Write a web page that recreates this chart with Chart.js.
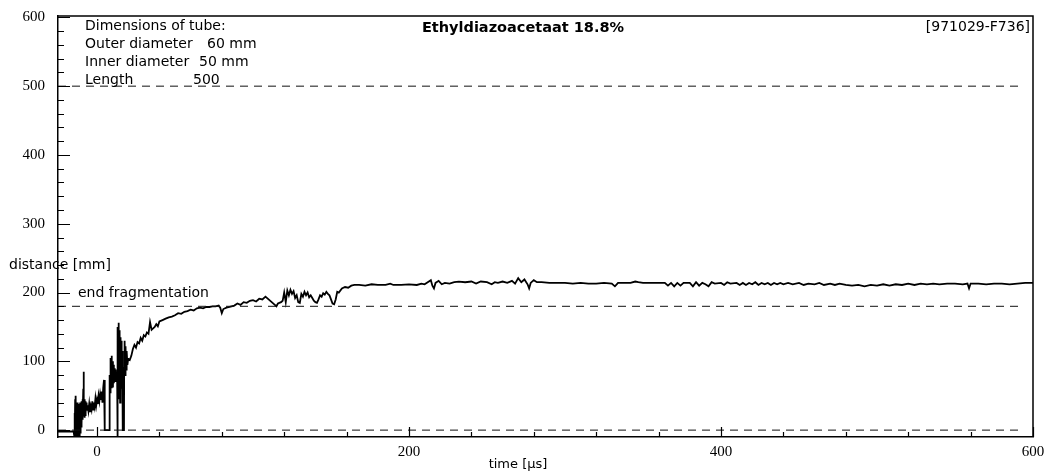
<!DOCTYPE html>
<html>
<head>
<meta charset="utf-8">
<script src="https://cdn.jsdelivr.net/npm/chart.js@4.4.1/dist/chart.umd.min.js"></script>
<style>
  body { margin: 0; background: #fff; }
  canvas { display: block; }
</style>
</head>
<body>
<canvas id="chart" width="1047" height="472"></canvas>
<script>
const baseAndFirstBurst = [
  [-25, -2], [-15, -2], [-14.6, -8], [-14.4, 25], [-14.2, -10], [-14, 45], [-13.8, -10], [-13.6, 50],
  [-13.4, -5], [-13.2, 30], [-13, -10], [-12.8, 40], [-12.6, -8], [-12.4, 35], [-12.2, -10], [-12, 30],
  [-11.8, -5], [-11.6, 38], [-11.4, -8], [-11.2, 28], [-11, 0], [-10.8, 40], [-10.6, -5], [-10.4, 35],
  [-10.2, 5], [-10, 42], [-9.8, 10], [-9.6, 38], [-9.4, 15], [-9.2, 45], [-9, 20], [-8.8, 60],
  [-8.6, 85], [-8.4, 20], [-8.2, 45], [-8, 18], [-7.8, 40], [-7.6, 22], [-7.4, 42], [-7.2, 25],
  [-7, 38], [-6.8, 28], [-6.6, 40], [-6.4, 30], [-6, 36], [-5.5, 28], [-5, 38], [-4.5, 26],
  [-4, 35], [-3.5, 30], [-3, 42], [-2.5, 30], [-2, 40], [-1.5, 34], [-1, 46], [-0.5, 36],
  [0, 44], [0.5, 38], [1, 50], [1.5, 42], [2, 52], [2.5, 44], [3, 56], [3.5, 40],
  [4, 62], [4.5, 73], [4.9, 70]
];
const secondBurst = [
  [5, 0], [8, 0], [8.1, 80], [8.4, 55], [8.7, 105], [9, 62], [9.3, 108], [9.6, 70],
  [9.9, 100], [10.2, 62], [10.5, 95], [10.8, 68], [11.1, 90], [11.4, 72], [11.7, 88], [12, 70],
  [12.3, 85], [12.6, 72], [12.9, 80], [13, -10], [13.2, 40], [13.4, 150], [13.6, 55], [13.8, 156],
  [14, 45], [14.2, 145], [14.4, 50], [14.6, 140], [14.8, 40], [15, 135], [15.2, 55], [15.4, 130],
  [15.6, 60], [15.8, 125], [16, 70], [16.2, 115], [16.4, 75], [16.5, 105], [16.6, 0], [17.3, 0],
  [17.4, 90], [17.7, 130], [18, 80], [18.3, 122], [18.6, 88], [19, 115], [19.5, 95]
];
const rise = [
  [20, 104], [21, 102], [22, 108], [23, 118], [24, 124], [25, 120], [26, 128], [27, 126],
  [28, 134], [29, 130], [30, 138], [31, 136], [32, 142], [33, 140], [34, 157], [35, 146],
  [36, 148], [37, 150], [38, 154], [39, 151], [40, 158], [42, 160], [44, 162], [46, 164],
  [48, 165], [50, 167], [52, 170], [54, 169], [56, 172], [58, 173], [60, 175], [62, 174],
  [64, 177], [66, 178], [68, 177], [70, 179], [72, 179], [74, 180], [76, 180], [78, 181],
  [79, 178], [80, 170], [81, 176], [83, 178], [85, 179], [88, 181], [90, 184], [92, 182],
  [94, 186], [96, 185], [98, 188], [100, 189], [102, 187], [104, 191], [106, 190], [108, 194],
  [110, 190], [112, 186], [114, 182], [115, 180], [116, 184], [118, 186], [119, 188], [120, 200],
  [121, 186], [122, 203], [123, 196], [124, 204], [125, 198], [126, 202], [127, 192], [128, 196],
  [129, 186], [130, 185], [131, 198], [132, 194], [133, 201], [134, 196], [135, 200], [136, 193],
  [137, 196], [138, 192], [139, 188], [140, 186], [141, 185], [142, 190], [143, 196], [144, 194],
  [145, 199], [146, 197], [147, 201], [148, 198], [149, 196], [150, 190], [151, 184], [152, 183],
  [153, 190], [154, 201], [155, 200]
];
const plateau = [
  [157, 206], [159, 208], [161, 207], [163, 210], [165, 211], [168, 211], [172, 210], [176, 212],
  [180, 211], [185, 211], [188, 213], [190, 211], [195, 211], [200, 212], [205, 211], [208, 213],
  [210, 212], [212, 215], [214, 218], [215, 210], [216, 206], [217, 214], [219, 217], [221, 212],
  [223, 214], [226, 213], [229, 215], [232, 216], [236, 215], [240, 216], [243, 213], [246, 216],
  [250, 215], [253, 212], [255, 215], [257, 214], [260, 216], [263, 214], [266, 217], [268, 213],
  [270, 221], [272, 215], [274, 219], [276, 212], [277, 206], [278, 214], [280, 218], [282, 215],
  [285, 215], [290, 214], [295, 214], [300, 214], [305, 213], [310, 214], [315, 213], [320, 213],
  [325, 214], [330, 213], [332, 209], [334, 214], [338, 214], [342, 214], [345, 216], [347, 215],
  [350, 214], [355, 214], [360, 214], [364, 214], [366, 210], [368, 214], [370, 209], [372, 214],
  [374, 210], [376, 214], [380, 214], [382, 209], [384, 215], [386, 210], [388, 214], [390, 212],
  [392, 209], [394, 215], [396, 213], [400, 214], [402, 211], [404, 215], [406, 213], [410, 214],
  [412, 211], [414, 214], [416, 211], [418, 214], [420, 212], [422, 215], [424, 211], [426, 214],
  [428, 212], [430, 214], [432, 211], [434, 214], [436, 212], [438, 214], [440, 212], [443, 214],
  [446, 212], [450, 214], [453, 211], [456, 213], [460, 212], [463, 214], [466, 211], [470, 213],
  [473, 211], [476, 213], [480, 211], [484, 210], [488, 211], [492, 209], [496, 211], [500, 210],
  [504, 212], [508, 210], [512, 212], [516, 211], [520, 213], [524, 211], [528, 213], [532, 212],
  [536, 213], [540, 212], [545, 213], [550, 213], [555, 212], [558, 213], [559, 206], [560, 213],
  [565, 213], [570, 212], [575, 213], [580, 213], [585, 212], [590, 213], [595, 214], [600, 214]
];

// dashed reference levels
const refLevels = [500, 180, 0];
const refFrom = -25;
const refTo = 592;

const xTicks = [0, 200, 400, 600];
const yTicks = [0, 100, 200, 300, 400, 500, 600];
const xMinorStep = 40;
const yMinorStep = 20;

const sans = '"DejaVu Sans", sans-serif';
const serif = '"Liberation Serif", "Times New Roman", serif';

const curve = [...baseAndFirstBurst, ...secondBurst, ...rise, ...plateau].map(p => ({ x: p[0], y: p[1] }));

const refSets = refLevels.map(level => ({
  data: [{ x: refFrom, y: level }, { x: refTo, y: level }],
  borderColor: '#111',
  borderWidth: 1,
  borderDash: [8, 6],
  pointRadius: 0
}));

const decorations = {
  id: 'decorations',
  afterDraw(chart) {
    const ctx = chart.ctx;
    const area = chart.chartArea;
    const xs = chart.scales.x;
    const ys = chart.scales.y;
    ctx.save();
    ctx.strokeStyle = '#000';

    // top and right edge of the frame
    ctx.lineWidth = 1.5;
    ctx.beginPath();
    ctx.moveTo(area.left, area.top);
    ctx.lineTo(area.right, area.top);
    ctx.lineTo(area.right, area.bottom);
    ctx.stroke();

    // ticks pointing inward
    ctx.lineWidth = 1.2;
    ctx.beginPath();
    for (let v = 0; v <= 600; v += yMinorStep) {
      const y = Math.round(ys.getPixelForValue(v)) + 0.5;
      const len = v % 100 === 0 ? 12 : 6;
      ctx.moveTo(area.left, y);
      ctx.lineTo(area.left + len, y);
    }
    for (let t = 0; t <= 600; t += xMinorStep) {
      const x = Math.round(xs.getPixelForValue(t)) + 0.5;
      const len = t % 200 === 0 ? 10 : 5;
      ctx.moveTo(x, area.bottom);
      ctx.lineTo(x, area.bottom - len);
    }
    ctx.stroke();

    ctx.fillStyle = '#000';
    ctx.textBaseline = 'middle';
    ctx.textAlign = 'left';
    ctx.font = '14px ' + sans;
    ctx.fillText('Dimensions of tube:', 85, 26);
    ctx.fillText('Outer diameter', 85, 44);
    ctx.fillText('60 mm', 207, 44);
    ctx.fillText('Inner diameter', 85, 62);
    ctx.fillText('50 mm', 199, 62);
    ctx.fillText('Length', 85, 80);
    ctx.fillText('500', 193, 80);
    ctx.fillText('distance [mm]', 9, 265);
    ctx.fillText('end fragmentation', 78, 293);

    ctx.textAlign = 'right';
    ctx.fillText('[971029-F736]', 1030, 27);

    ctx.textAlign = 'center';
    ctx.font = '13px ' + sans;
    ctx.fillText('time [\u00b5s]', 518, 465);

    ctx.font = 'bold 14.5px ' + sans;
    ctx.fillText('Ethyldiazoacetaat 18.8%', 523, 28);
    ctx.restore();
  }
};

new Chart(document.getElementById('chart'), {
  type: 'line',
  data: {
    datasets: [
      ...refSets,
      {
        data: curve,
        borderColor: '#000',
        borderWidth: 1.8,
        pointRadius: 0,
        tension: 0
      }
    ]
  },
  options: {
    responsive: false,
    animation: false,
    layout: { padding: { left: 0, top: 16, right: 14, bottom: 0 } },
    plugins: {
      legend: { display: false },
      tooltip: { enabled: false }
    },
    scales: {
      x: {
        type: 'linear',
        min: -25,
        max: 600,
        afterFit(scale) {
          scale.height = 35;
          scale.paddingLeft = 0;
          scale.paddingRight = 0;
        },
        afterBuildTicks(scale) { scale.ticks = xTicks.map(v => ({ value: v })); },
        grid: { display: false, drawTicks: false },
        border: { display: true, color: '#000', width: 1.5 },
        ticks: { color: '#000', font: { family: serif, size: 15 }, padding: 6, maxRotation: 0 }
      },
      y: {
        type: 'linear',
        min: -10,
        max: 602,
        afterFit(scale) {
          scale.width = 58;
          scale.paddingTop = 0;
          scale.paddingBottom = 0;
        },
        afterBuildTicks(scale) { scale.ticks = yTicks.map(v => ({ value: v })); },
        grid: { display: false, drawTicks: false },
        border: { display: true, color: '#000', width: 1.5 },
        ticks: { color: '#000', font: { family: serif, size: 15 }, padding: 13 }
      }
    }
  },
  plugins: [decorations]
});
</script>
</body>
</html>
